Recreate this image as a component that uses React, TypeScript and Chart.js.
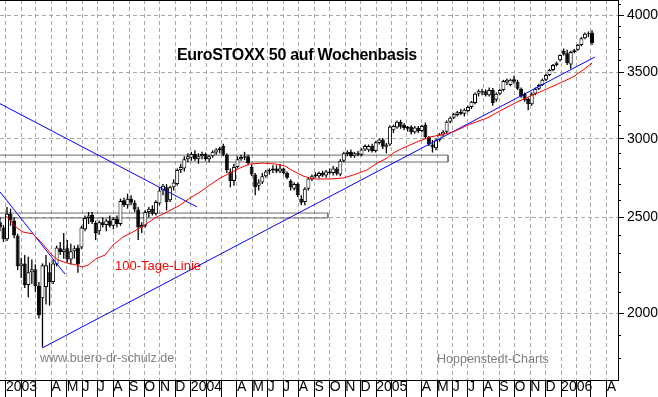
import React, { useEffect, useRef } from 'react';
import { Chart, registerables } from 'chart.js';

Chart.register(...registerables);

// week index 0 = week ending Fri 3 Jan 2003; first candle is week -2
const FIRST_WEEK = -2;

const opens = [
  2470, 2440, 2375, 2520, 2480, 2395, 2230, 2245, 2135, 2200,
  2215, 2130, 2070, 2125, 2200, 2150, 2240, 2325, 2305, 2325,
  2265, 2310, 2330, 2330, 2430, 2495, 2512, 2466, 2420, 2470,
  2455, 2480, 2450, 2490, 2460, 2600, 2570, 2610, 2585, 2545,
  2440, 2450, 2530, 2550, 2520, 2580, 2660, 2680, 2600, 2680,
  2700, 2790, 2800, 2860, 2870, 2895, 2860, 2880, 2895, 2860,
  2880, 2905, 2920, 2950, 2890, 2780, 2720, 2810, 2860, 2870,
  2880, 2810, 2760, 2690, 2710, 2750, 2780, 2790, 2800, 2780,
  2800, 2770, 2720, 2670, 2700, 2610, 2590, 2670, 2730, 2760,
  2750, 2770, 2755, 2780, 2770, 2800, 2760, 2850, 2895, 2910,
  2880, 2900, 2890, 2925, 2920, 2950, 2915, 2970, 2995, 2945,
  2960, 3060, 3080, 3120, 3100, 3070, 3085, 3045, 3075, 3055,
  3100, 3010, 2960, 2935, 2990, 3030, 3050, 3120, 3150, 3170,
  3195, 3180, 3200, 3230, 3260, 3330, 3350, 3350, 3320, 3360,
  3285, 3330, 3360, 3420, 3400, 3445, 3425, 3370, 3330, 3290,
  3250, 3330, 3370, 3400, 3440, 3480, 3520, 3560, 3600, 3680,
  3660, 3565, 3670, 3690, 3730, 3790, 3830, 3840,
];
const highs = [
  2500, 2455, 2560, 2550, 2500, 2405, 2275, 2290, 2280, 2265,
  2240, 2150, 2245, 2290, 2250, 2265, 2340, 2360, 2410, 2370,
  2350, 2340, 2345, 2450, 2510, 2530, 2530, 2480, 2480, 2500,
  2490, 2510, 2500, 2510, 2610, 2615, 2640, 2630, 2600, 2560,
  2470, 2540, 2560, 2570, 2600, 2680, 2700, 2700, 2690, 2730,
  2800, 2830, 2880, 2900, 2910, 2920, 2900, 2910, 2905, 2890,
  2920, 2935, 2945, 2965, 2900, 2800, 2830, 2880, 2890, 2910,
  2890, 2825, 2770, 2730, 2770, 2790, 2800, 2820, 2820, 2830,
  2805, 2780, 2730, 2710, 2710, 2630, 2680, 2740, 2760, 2775,
  2780, 2785, 2790, 2800, 2815, 2810, 2860, 2910, 2920, 2925,
  2910, 2915, 2935, 2960, 2960, 2965, 2985, 3000, 3005, 2970,
  3095, 3100, 3130, 3135, 3110, 3090, 3095, 3090, 3090, 3100,
  3115, 3020, 2990, 3000, 3040, 3060, 3130, 3160, 3185, 3200,
  3215, 3220, 3240, 3275, 3340, 3365, 3370, 3365, 3380, 3375,
  3340, 3370, 3440, 3450, 3450, 3475, 3440, 3380, 3340, 3300,
  3340, 3380, 3410, 3450, 3490, 3530, 3570, 3590, 3650, 3700,
  3690, 3680, 3695, 3740, 3800, 3840, 3850, 3860,
];
const lows = [
  2420, 2360, 2365, 2450, 2380, 2210, 2170, 2120, 2075, 2140,
  2100, 1975, 1849, 2040, 2035, 2140, 2230, 2290, 2270, 2250,
  2240, 2270, 2197, 2320, 2420, 2460, 2460, 2370, 2400, 2440,
  2420, 2440, 2430, 2440, 2450, 2560, 2550, 2570, 2530, 2370,
  2410, 2440, 2500, 2510, 2510, 2570, 2630, 2540, 2590, 2660,
  2690, 2770, 2780, 2840, 2850, 2850, 2830, 2860, 2850, 2840,
  2870, 2890, 2900, 2880, 2770, 2680, 2690, 2800, 2850, 2855,
  2820, 2750, 2630, 2660, 2700, 2740, 2760, 2770, 2770, 2770,
  2760, 2730, 2660, 2660, 2620, 2570, 2570, 2660, 2720, 2740,
  2735, 2745, 2740, 2760, 2755, 2755, 2750, 2840, 2880, 2870,
  2870, 2880, 2880, 2915, 2910, 2905, 2905, 2960, 2930, 2900,
  2950, 3040, 3070, 3070, 3060, 3050, 3030, 3035, 3040, 3045,
  3000, 2950, 2905, 2920, 2980, 3015, 3040, 3110, 3140, 3160,
  3170, 3160, 3190, 3215, 3250, 3310, 3320, 3310, 3310, 3240,
  3270, 3320, 3350, 3400, 3390, 3410, 3360, 3300, 3270, 3205,
  3240, 3320, 3360, 3390, 3430, 3470, 3510, 3550, 3590, 3640,
  3560, 3530, 3660, 3680, 3720, 3780, 3800, 3730,
];
const closes = [
  2440, 2375, 2520, 2480, 2395, 2230, 2245, 2135, 2200, 2215,
  2130, 1990, 2235, 2235, 2150, 2245, 2330, 2305, 2320, 2265,
  2310, 2325, 2240, 2440, 2495, 2510, 2470, 2410, 2470, 2455,
  2480, 2450, 2490, 2460, 2595, 2570, 2610, 2585, 2545, 2440,
  2455, 2530, 2550, 2520, 2590, 2660, 2690, 2590, 2680, 2710,
  2790, 2810, 2860, 2880, 2895, 2860, 2880, 2895, 2860, 2880,
  2910, 2925, 2935, 2890, 2790, 2720, 2810, 2860, 2875, 2880,
  2835, 2760, 2680, 2710, 2750, 2780, 2790, 2800, 2780, 2800,
  2770, 2740, 2680, 2700, 2630, 2585, 2670, 2735, 2750, 2750,
  2770, 2755, 2780, 2770, 2800, 2765, 2850, 2900, 2910, 2880,
  2900, 2890, 2925, 2950, 2950, 2915, 2975, 2995, 2945, 2960,
  3085, 3090, 3120, 3085, 3075, 3085, 3045, 3080, 3055, 3090,
  3010, 2960, 2940, 2990, 3030, 3050, 3120, 3150, 3175, 3190,
  3180, 3210, 3230, 3270, 3330, 3355, 3340, 3320, 3360, 3260,
  3330, 3360, 3430, 3440, 3440, 3425, 3370, 3310, 3280, 3250,
  3330, 3370, 3400, 3440, 3480, 3520, 3560, 3580, 3645, 3650,
  3575, 3670, 3685, 3730, 3790, 3830, 3835, 3745,
];

// 100-Tage-Linie
const maWeeks = [
  -0.57, 2.82, 4.51, 7.33, 9.87, 12.69, 14.38, 16.92, 19.74, 21.15,
  22.84, 25.38, 27.64, 29.9, 32.7, 35.5, 38.4, 41.7, 45.1, 48.8,
  51.6, 54.4, 57.2, 60.1, 62.9, 65.7, 68.5, 72.2, 75.6, 78.4,
  80.7, 83.5, 86.3, 91.1, 94.8, 97.6, 101.5, 104.4, 107.2, 108.9,
  111.7, 115.6, 119.3, 122.1, 125.8, 130.6, 135.4, 139.0, 143.9, 147.6,
  150.3, 156.0, 159.6, 162.5, 165.0,
];
const maValues = [
  2512, 2438, 2415, 2404, 2354, 2289, 2263, 2247, 2236, 2226,
  2236, 2273, 2289, 2343, 2387, 2415, 2449, 2495, 2530, 2571,
  2614, 2650, 2694, 2738, 2770, 2802, 2829, 2835, 2829, 2816,
  2783, 2751, 2732, 2732, 2738, 2757, 2789, 2835, 2868, 2902,
  2936, 2977, 3012, 3026, 3047, 3104, 3148, 3200, 3268, 3313,
  3344, 3415, 3463, 3520, 3578,
];

// trend lines
const upTrendWeeks = [9.87, 165.8];
const upTrendValues = [1844, 3628];
const downTrendWeeks = [-2.0, 53.6];
const downTrendValues = [3255, 2560];
const steepTrendWeeks = [-2.0, 16.36];
const steepTrendValues = [2652, 2190];

// horizontal zones
const upperZoneWeeks = [-2.5, 124.4, 124.4, -2.5];
const upperZoneValues = [2888, 2888, 2842, 2842];
const lowerZoneWeeks = [-2.5, 90.5, 90.5, -2.5];
const lowerZoneValues = [2524, 2524, 2495, 2495];

const monthLabels = [
  '2003', '', '', 'A', 'M', 'J', 'J', 'A', 'S', 'O', 'N', 'D',
  '2004', '', '', 'A', 'M', 'J', 'J', 'A', 'S', 'O', 'N', 'D',
  '2005', '', '', 'A', 'M', 'J', 'J', 'A', 'S', 'O', 'N', 'D',
  '2006', '', '', 'A',
];
const yMajorTicks = [2000, 2500, 3000, 3500, 4000];
const yMinorTicks = [1800, 1900, 2100, 2200, 2300, 2400, 2600, 2700, 2800, 2900,
  3100, 3200, 3300, 3400, 3600, 3700, 3800, 3900, 4100];

const X_MIN = -1.977;
const X_MAX = 172.33;
const Y_MIN = 1712;
const Y_MAX = 4142;
const GRID = 'rgb(168,168,168)';
const WEEK_MS = 7 * 86400000;

const monthTickWeeks: number[] = monthLabels.map((_, i) => {
  const yr = 2003 + Math.floor(i / 12);
  const m = i % 12;
  return (Date.UTC(yr, m, 1) - Date.UTC(2003, 0, 3)) / WEEK_MS;
});

const pts = (xs: number[], ys: number[]) => xs.map((x, i) => ({ x, y: ys[i] }));

const framePlugin = {
  id: 'frame',
  afterDraw(chart: any) {
    const { ctx, chartArea, scales } = chart;
    const y = scales.y;
    ctx.save();
    ctx.fillStyle = '#000';
    ctx.fillRect(chartArea.left, 0, chartArea.right - chartArea.left + 1, 1);
    ctx.strokeStyle = '#000';
    ctx.lineWidth = 1;
    for (const v of yMinorTicks) {
      const py = Math.round(y.getPixelForValue(v)) + 0.5;
      ctx.beginPath();
      ctx.moveTo(chartArea.right, py);
      ctx.lineTo(chartArea.right + 3, py);
      ctx.stroke();
    }
    ctx.restore();
  },
};

export default function App() {
  const ref = useRef<HTMLCanvasElement | null>(null);

  useEffect(() => {
    document.body.style.margin = '0';
    const canvas = ref.current;
    if (!canvas) return;

    const bodies = opens.map((o, i) => ({ x: FIRST_WEEK + i, y: [o, closes[i]] }));
    const wicks = lows.map((l, i) => ({ x: FIRST_WEEK + i, y: [l, highs[i]] }));
    const bodyColors = opens.map((o, i) => (closes[i] >= o ? '#ffffff' : '#000000'));

    const lineBase = {
      type: 'line' as const,
      pointRadius: 0,
      borderWidth: 1,
      tension: 0,
      fill: false,
    };

    const chart = new Chart(canvas, {
      type: 'bar',
      data: {
        datasets: [
          { ...lineBase, label: 'zone1', data: pts(upperZoneWeeks, upperZoneValues), borderColor: 'rgb(110,110,110)', order: 3 },
          { ...lineBase, label: 'zone2', data: pts(lowerZoneWeeks, lowerZoneValues), borderColor: 'rgb(110,110,110)', order: 3 },
          {
            type: 'bar', label: 'wicks', data: wicks as any, backgroundColor: '#000', borderWidth: 0,
            barThickness: 1.3, stack: 'ohlc', inflateAmount: 0, order: 2,
          },
          {
            type: 'bar', label: 'bodies', data: bodies as any, backgroundColor: bodyColors, borderColor: '#000',
            borderWidth: 1, borderSkipped: false, barThickness: 4, stack: 'ohlc',
            inflateAmount: 0, order: 1,
          },
          { ...lineBase, label: '100-Tage-Linie', data: pts(maWeeks, maValues), borderColor: 'rgb(255,0,0)', order: 0 },
          { ...lineBase, label: 'up', data: pts(upTrendWeeks, upTrendValues), borderColor: 'rgb(0,0,255)', order: 0 },
          { ...lineBase, label: 'down', data: pts(downTrendWeeks, downTrendValues), borderColor: 'rgb(0,0,255)', order: 0 },
          { ...lineBase, label: 'steep', data: pts(steepTrendWeeks, steepTrendValues), borderColor: 'rgb(0,0,255)', order: 0 },
        ] as any,
      },
      options: {
        responsive: false,
        maintainAspectRatio: false,
        animation: false,
        devicePixelRatio: 1,
        events: [],
        layout: { padding: 0 },
        plugins: { legend: { display: false }, tooltip: { enabled: false }, title: { display: false } },
        scales: {
          x: {
            type: 'linear',
            position: 'bottom',
            min: X_MIN,
            max: X_MAX,
            offset: false,
            afterBuildTicks: (s: any) => { s.ticks = monthTickWeeks.map((v) => ({ value: v })); },
            afterFit: (s: any) => { s.height = 17; s.paddingLeft = 0; s.paddingRight = 0; },
            grid: {
              display: true, drawOnChartArea: true, drawTicks: true, color: GRID, lineWidth: 1,
              tickLength: 17, tickColor: '#000', tickWidth: 1, tickBorderDash: [], offset: false,
            },
            border: { display: true, color: '#000', width: 1, dash: [4, 3] },
            ticks: {
              autoSkip: false, maxRotation: 0, minRotation: 0, align: 'start', padding: -17,
              color: '#000',
              font: { family: "'Liberation Sans', Arial, sans-serif", size: 14, lineHeight: 1 },
              callback: (_v: any, i: number) => monthLabels[i] ?? '',
            },
          },
          y: {
            type: 'logarithmic',
            position: 'right',
            min: Y_MIN,
            max: Y_MAX,
            beginAtZero: false,
            stacked: false,
            afterBuildTicks: (s: any) => { s.ticks = yMajorTicks.map((v) => ({ value: v })); },
            afterFit: (s: any) => { s.width = 40; s.paddingTop = 0; s.paddingBottom = 0; },
            grid: { color: GRID, lineWidth: 1, tickColor: '#000', tickLength: 6, tickWidth: 1, tickBorderDash: [] },
            border: { display: true, color: '#000', width: 1, dash: [4, 3] },
            ticks: {
              padding: 3, color: '#000',
              font: { family: "'Liberation Sans', Arial, sans-serif", size: 14 },
              callback: (v: any) => String(v),
            },
          },
        },
      } as any,
      plugins: [framePlugin],
    });

    return () => chart.destroy();
  }, []);

  const abs = (left: number, top: number, extra: React.CSSProperties): React.CSSProperties => ({
    position: 'absolute', left, top, lineHeight: 1, whiteSpace: 'nowrap',
    fontFamily: "'Liberation Sans', Arial, sans-serif", ...extra,
  });

  return (
    <div style={{ position: 'relative', width: 658, height: 397, background: '#fff' }}>
      <canvas ref={ref} width={658} height={397} style={{ display: 'block', width: 658, height: 397 }} />
      <div style={abs(177, 46.5, { fontSize: 16, fontWeight: 'bold', color: '#000', letterSpacing: '-0.3px' })}>
        EuroSTOXX 50 auf Wochenbasis
      </div>
      <div style={abs(115, 259, { fontSize: 13, color: '#ff0000' })}>100-Tage-Linie</div>
      <div style={abs(40, 352.4, { fontSize: 12.5, color: '#808080' })}>www.buero-dr-schulz.de</div>
      <div style={abs(437, 352.7, { fontSize: 12.5, color: '#808080' })}>Hoppenstedt-Charts</div>
    </div>
  );
}
